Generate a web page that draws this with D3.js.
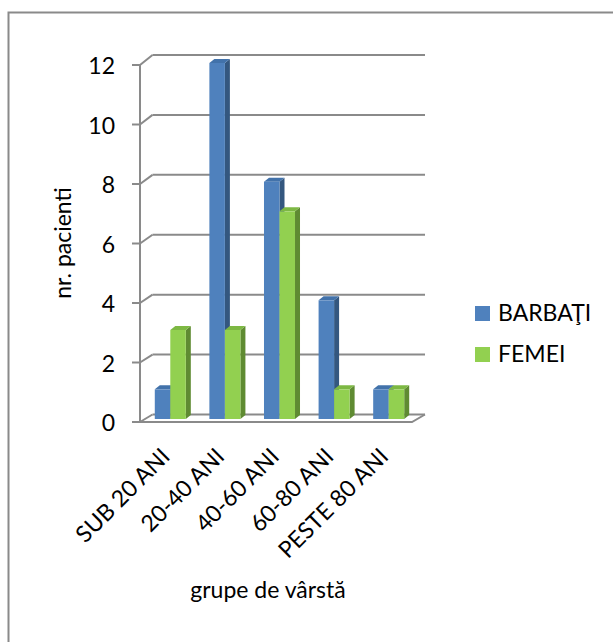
<!DOCTYPE html>
<html>
<head>
<meta charset="utf-8">
<script src="https://cdn.jsdelivr.net/npm/d3@7/dist/d3.min.js"></script>
<style>
  html, body { margin: 0; padding: 0; background: #fff; }
  svg { display: block; }
  text { font-family: Lato, "Liberation Sans", sans-serif; fill: #000; }
</style>
</head>
<body>
<svg id="chart" width="613" height="642"></svg>
<script>
// Patients per age group, by sex
const categories = ["SUB 20 ANI", "20-40 ANI", "40-60 ANI", "60-80 ANI", "PESTE 80 ANI"];
const seriesNames = ["BARBAŢI", "FEMEI"];
const barbati = [1, 12, 8, 4, 1];
const femei = [3, 3, 7, 1, 1];
const yTicks = [0, 2, 4, 6, 8, 10, 12];
const yTitle = "nr. pacienti";
const xTitle = "grupe de vârstă";

const seriesValues = [barbati, femei];
const colors = {
  front: ["#4f81bd", "#92d050"],
  side:  ["#34577f", "#5f8b32"],
  top:   ["#4272aa", "#7db843"]
};

const svg = d3.select("#chart");
const gridColor = "#8a8a8a";
const fontSize = 23;

// Frame of the chart box (top and left edges)
svg.append("path")
  .attr("d", "M8.5,642V12.5H613")
  .attr("fill", "none")
  .attr("stroke", gridColor)
  .attr("stroke-width", 2);

// 3D plot box: front plane, back wall and the depth at which bars stand
const yFront = d3.scaleLinear().domain([0, 12]).range([422, 65]);
const yBack  = d3.scaleLinear().domain([0, 12]).range([414.5, 55]);
const yBar   = d3.scaleLinear().domain([0, 12]).range([419, 63]);
const frontX = [140, 412];
const backX  = [152.5, 425];

const xGroup = d3.scaleBand().domain(categories).range([143, 416]);
const xSeries = d3.scaleBand().domain(seriesNames)
  .range([0, xGroup.bandwidth()]).paddingOuter(0.76);

const depth = { dx: 5, dy: -4 };

const grid = svg.append("g");

// Back-wall gridlines, side-wall diagonals and tick marks
yTicks.forEach(t => {
  grid.append("line")
    .attr("x1", backX[0]).attr("y1", yBack(t))
    .attr("x2", backX[1]).attr("y2", yBack(t))
    .attr("stroke", gridColor).attr("stroke-width", 2);
  grid.append("line")
    .attr("x1", frontX[0]).attr("y1", yFront(t))
    .attr("x2", backX[0]).attr("y2", yBack(t))
    .attr("stroke", gridColor).attr("stroke-width", 2);
  grid.append("line")
    .attr("x1", frontX[0] - 8).attr("y1", yFront(t))
    .attr("x2", frontX[0]).attr("y2", yFront(t))
    .attr("stroke", gridColor).attr("stroke-width", 2);
});

// Front vertical axis
grid.append("line")
  .attr("x1", frontX[0]).attr("y1", yFront(12))
  .attr("x2", frontX[0]).attr("y2", yFront(0))
  .attr("stroke", gridColor).attr("stroke-width", 2);

// Floor: front edge and right diagonal
grid.append("path")
  .attr("d", `M${frontX[0]},${yFront(0)}H${frontX[1]}L${backX[1]},${yBack(0)}`)
  .attr("fill", "none")
  .attr("stroke", gridColor).attr("stroke-width", 2);

// Bars drawn as boxes: front face, right side and top
const bars = svg.append("g");
categories.forEach((c, i) => {
  seriesNames.forEach((s, j) => {
    const v = seriesValues[j][i];
    const x = xGroup(c) + xSeries(s);
    const w = xSeries.bandwidth();
    const yT = yBar(v), yB = yBar(0);
    const g = bars.append("g");
    g.append("path")
      .attr("d", `M${x + w},${yT}L${x + w + depth.dx},${yT + depth.dy}L${x + w + depth.dx},${yB + depth.dy}L${x + w},${yB}Z`)
      .attr("fill", colors.side[j]);
    g.append("path")
      .attr("d", `M${x},${yT}L${x + depth.dx},${yT + depth.dy}L${x + w + depth.dx},${yT + depth.dy}L${x + w},${yT}Z`)
      .attr("fill", colors.top[j]);
    g.append("rect")
      .attr("x", x).attr("y", yT)
      .attr("width", w).attr("height", yB - yT)
      .attr("fill", colors.front[j]);
  });
});

// Y tick labels
svg.append("g").selectAll("text")
  .data(yTicks)
  .join("text")
  .attr("x", 115)
  .attr("y", d => yFront(d) + 9)
  .attr("text-anchor", "end")
  .attr("font-size", fontSize)
  .text(d => d);

// Category labels, rotated
svg.append("g").selectAll("text")
  .data(categories)
  .join("text")
  .attr("transform", d => `translate(${xGroup(d) + xGroup.bandwidth() / 2 + 1},458) rotate(-45)`)
  .attr("text-anchor", "end")
  .attr("font-size", fontSize)
  .text(d => d);

// Axis titles
svg.append("text")
  .attr("transform", "translate(71,243) rotate(-90)")
  .attr("text-anchor", "middle")
  .attr("font-size", fontSize)
  .text(yTitle);

svg.append("text")
  .attr("x", 268).attr("y", 598)
  .attr("text-anchor", "middle")
  .attr("font-size", fontSize)
  .text(xTitle);

// Legend
const legend = svg.append("g");
seriesNames.forEach((s, j) => {
  const y = 306 + j * 41;
  legend.append("rect")
    .attr("x", 475).attr("y", y)
    .attr("width", 15).attr("height", 15)
    .attr("fill", colors.front[j]);
  legend.append("text")
    .attr("x", 498).attr("y", y + 15)
    .attr("font-size", fontSize)
    .text(s);
});
</script>
</body>
</html>
